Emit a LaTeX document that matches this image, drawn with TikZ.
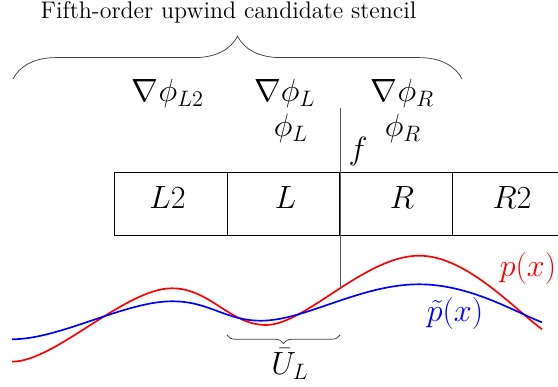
\documentclass[tikz,border=0pt]{standalone}
\usetikzlibrary{decorations.pathreplacing}
\begin{document}
\begin{tikzpicture}[x=0.5376pt,y=-0.5376pt,
  cell/.style={draw, line width=0.65pt, minimum width=60.48pt, minimum height=33.9pt, inner sep=0pt, outer sep=0pt},
  lab/.style={font=\fontsize{16.5}{19}\selectfont, inner sep=0pt, anchor=base},
  toptext/.style={font=\fontsize{12.9}{15}\selectfont, inner sep=0pt, anchor=base},
  bracedec/.style={decorate, line width=0.4pt, black!75},
  curve/.style={line width=0.9pt},
  faceline/.style={line width=0.4pt, black!65}]
\useasboundingbox (0,0) rectangle (558,387);

% cells
\node[cell] (cL2) at (171,204.2) {};
\node[cell] (cL)  at (283.5,204.2) {};
\node[cell] (cR)  at (396,204.2) {};
\node[cell] (cR2) at (508.5,204.2) {};

% cell labels
\node[lab] (tL2) at (167.5,208.3) {$L2$};
\node[lab] (tL)  at (285.5,208.3) {$L$};
\node[lab] (tR)  at (402,209) {$R$};
\node[lab] (tR2) at (512,209) {$R2$};

% gradient and value labels
\node[lab] (gL2) at (168,101.7) {$\nabla\phi_{L2}$};
\node[lab] (gL)  at (284.7,101.7) {$\nabla\phi_{L}$};
\node[lab] (gR)  at (402.5,101.7) {$\nabla\phi_{R}$};
\node[lab] (vL)  at (291,136.8) {$\phi_{L}$};
\node[lab] (vR)  at (403,136.5) {$\phi_{R}$};
\node[lab] (f)   at (358,160) {$f$};

% top brace
\coordinate (bl) at (13,79);
\coordinate (br) at (462,79);
\draw[bracedec, decoration={brace, amplitude=23pt}] (bl) -- (br);
\node[toptext] (title) at (228.6,19) {Fifth-order upwind candidate stencil};

% curves
\draw[curve, red] (12,361.7) .. controls (55,361.7) and (125,288.3) .. (172,288.3)
  .. controls (210,288.3) and (230,325) .. (266,325)
  .. controls (305,325) and (365,255.7) .. (419,255.7)
  .. controls (465,255.7) and (510,305) .. (542,329.3);
\draw[curve, blue] (12,339.3) .. controls (60,339.3) and (125,301.3) .. (172,301.3)
  .. controls (210,301.3) and (225,320.7) .. (261,320.7)
  .. controls (305,320.7) and (360,284.3) .. (419,284.3)
  .. controls (470,284.3) and (515,312) .. (542,322.3);

% face line
\coordinate (ftop) at (340,108);
\coordinate (fbot) at (340,288.3);
\draw[faceline] (ftop) -- (fbot);

% curve labels
\node[lab, red]  (px)  at (528,276.6) {$p(x)$};
\node[lab, blue] (ptx) at (455,322) {$\tilde{p}(x)$};

% bottom brace
\coordinate (ul) at (227,335);
\coordinate (ur) at (340,335);
\draw[bracedec, decoration={brace, amplitude=4.6pt}] (ur) -- (ul);
\node[lab] (UL) at (290,375) {$\bar{U}_L$};
\end{tikzpicture}
\end{document}
